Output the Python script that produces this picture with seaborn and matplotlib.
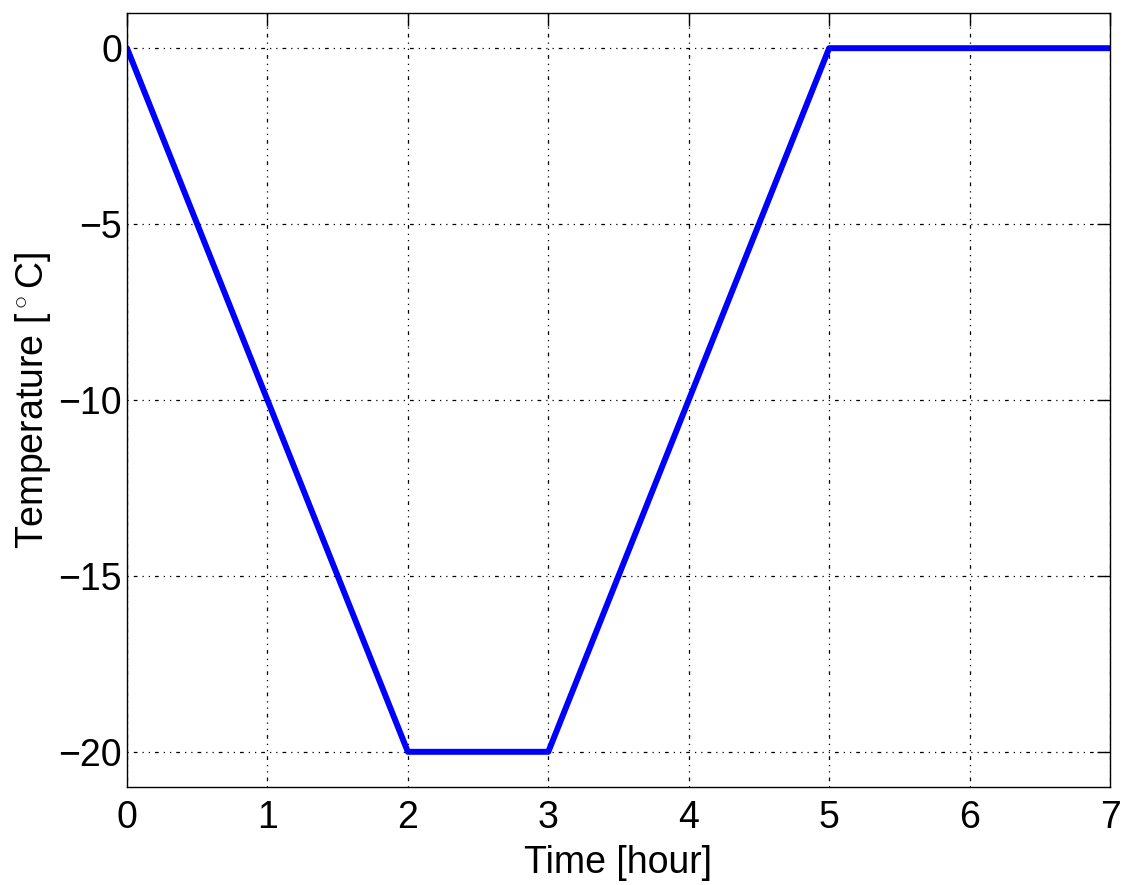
import matplotlib
matplotlib.use("Agg")
import matplotlib.pyplot as plt
import seaborn as sns
import pandas as pd

time_hour = [0, 2, 3, 5, 7]
temperature = [0, -20, -20, 0, 0]
x_ticks = [0, 1, 2, 3, 4, 5, 6, 7]
y_ticks = [0, -5, -10, -15, -20]

sns.set_theme(style="white")
plt.rcParams['font.family'] = ['Liberation Sans', 'DejaVu Sans']
plt.rcParams['mathtext.fontset'] = 'custom'
plt.rcParams['mathtext.rm'] = 'Liberation Sans'
plt.rcParams['text.color'] = 'black'
plt.rcParams['axes.labelcolor'] = 'black'

df = pd.DataFrame({"Time": time_hour, "Temp": temperature})

fig = plt.figure(figsize=(11.23, 8.85), dpi=100)
ax = fig.add_axes([127/1123, 1-787/885, (1110-127)/1123, (787-13)/885])

sns.lineplot(data=df, x="Time", y="Temp", ax=ax, color="#0000ff", linewidth=4.3,
             estimator=None, sort=False)

ax.set_xlim(0, 7)
ax.set_ylim(-21, 1)
ax.set_xticks(x_ticks)
ax.set_yticks(y_ticks)
ax.set_xticklabels([str(v) for v in x_ticks])
ax.set_yticklabels([str(v).replace('-', '\u2212') for v in y_ticks])
ax.grid(True, color='black', linestyle=(0, (1, 4, 3, 4, 1, 4)), linewidth=0.9)
ax.tick_params(direction='in', length=9.5, width=1, top=True, right=True,
               labelsize=27, colors='black')
ax.tick_params(axis='x', pad=9.5)
ax.tick_params(axis='y', pad=3.5)
for s in ax.spines.values():
    s.set_color('black')
    s.set_linewidth(1)
ax.set_xlabel("Time [hour]", fontsize=27, labelpad=6, color='black')
ax.set_ylabel("Temperature [$^\\circ$C]", fontsize=27, labelpad=4, color='black')

fig.savefig("out.png", dpi=100)
